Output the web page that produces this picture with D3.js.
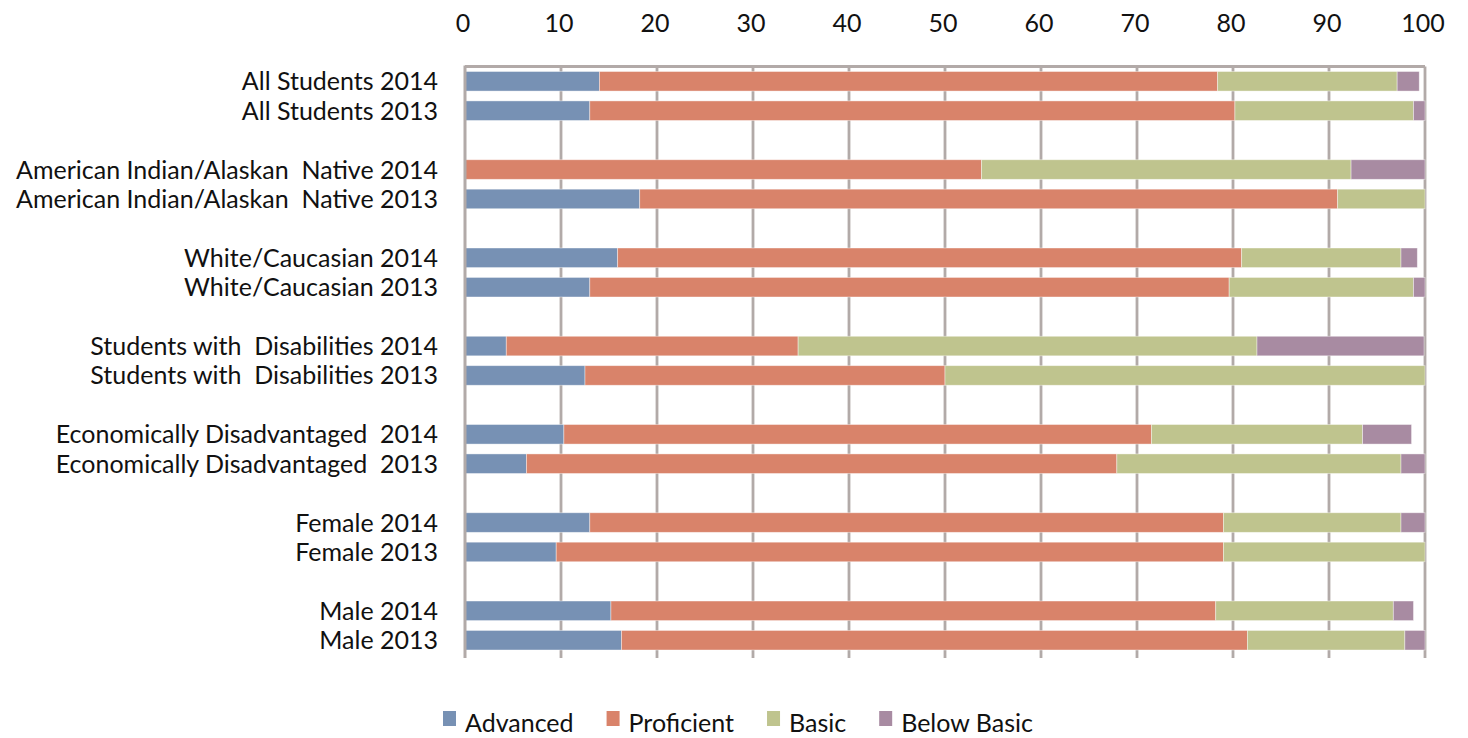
<!DOCTYPE html>
<html>
<head>
<meta charset="utf-8">
<script src="https://cdn.jsdelivr.net/npm/d3@7"></script>
<style>
  body { margin: 0; background: #fff; }
  text { font-family: Lato, "Liberation Sans", Arial, sans-serif; fill: #111; }
</style>
</head>
<body>
<svg id="chart"></svg>
<script>
// groups, top to bottom; each has a 2014 row then a 2013 row
var groups = [
  'All Students',
  'American Indian/Alaskan  Native',
  'White/Caucasian',
  'Students with  Disabilities',
  'Economically Disadvantaged ',
  'Female',
  'Male'
];
var years = ['2014', '2013'];

var levels = ['Advanced', 'Proficient', 'Basic', 'Below Basic'];
var colors = ['#7791b4', '#d9836a', '#bfc48e', '#a88ba2'];

// percent per row, in order of rows (group x year)
var advanced   = [14.0, 13.0,  0.0, 18.2, 15.9, 13.0,  4.3, 12.5, 10.3,  6.4, 13.0,  9.5, 15.2, 16.3];
var proficient = [64.4, 67.2, 53.8, 72.7, 65.0, 66.6, 30.4, 37.5, 61.2, 61.5, 66.0, 69.5, 63.0, 65.2];
var basic      = [18.7, 18.6, 38.5,  9.1, 16.6, 19.2, 47.8, 50.0, 22.0, 29.6, 18.5, 21.0, 18.5, 16.4];
var belowBasic = [ 2.3,  1.2,  7.7,  0.0,  1.7,  1.2, 17.4,  0.0,  5.1,  2.5,  2.5,  0.0,  2.1,  2.1];

var xTicks = [0, 10, 20, 30, 40, 50, 60, 70, 80, 90, 100];

// set the dimensions and margins of the graph
var W = 1468, H = 738;
var margin = { top: 66.5, right: 43, bottom: 83, left: 465 };
var width = W - margin.left - margin.right;
var height = H - margin.top - margin.bottom;

// build row keys, with a blank spacer between groups
var rows = [];
var domain = [];
groups.forEach(function (g, gi) {
  years.forEach(function (yr) {
    var i = rows.length;
    var r = { key: 'r' + i, label: g + ' ' + yr, values: [advanced[i], proficient[i], basic[i], belowBasic[i]] };
    rows.push(r);
    domain.push(r.key);
  });
  if (gi < groups.length - 1) domain.push('gap' + gi);
});

var x = d3.scaleLinear().domain([0, 100]).range([0, width]);
var y = d3.scaleBand().domain(domain).range([0, height]).paddingInner(0.335).paddingOuter(0.17);

var svg = d3.select('#chart').attr('width', W).attr('height', H);
var graph = svg.append('g')
  .attr('transform', 'translate(' + margin.left + ',' + margin.top + ')');

var gridColor = '#b2aaa8';

// vertical gridlines
graph.append('g').attr('class', 'grid')
  .selectAll('line')
  .data(xTicks.filter(function (d) { return d > 0; }))
  .enter().append('line')
  .attr('x1', function (d) { return x(d); })
  .attr('x2', function (d) { return x(d); })
  .attr('y1', 0)
  .attr('y2', height + 3)
  .attr('stroke', gridColor)
  .attr('stroke-width', 2.8);

// top border
graph.append('line')
  .attr('x1', 0).attr('x2', width)
  .attr('y1', 0).attr('y2', 0)
  .attr('stroke', gridColor).attr('stroke-width', 2.8);

// stacked bars
var stacked = rows.map(function (r) {
  var acc = 0;
  return r.values.map(function (v, li) {
    var seg = { key: r.key, x0: acc, x1: acc + v, level: li };
    acc += v;
    return seg;
  });
});

graph.append('g').attr('class', 'bars')
  .selectAll('g')
  .data(stacked)
  .enter().append('g')
  .selectAll('rect')
  .data(function (d) { return d.filter(function (s) { return s.x1 > s.x0; }); })
  .enter().append('rect')
  .attr('x', function (d) { return x(d.x0); })
  .attr('width', function (d) { return x(Math.min(d.x1, 100)) - x(d.x0); })
  .attr('y', function (d) { return y(d.key); })
  .attr('height', y.bandwidth())
  .attr('fill', function (d) { return colors[d.level]; })
  .attr('stroke', '#ffffff')
  .attr('stroke-opacity', 0.5)
  .attr('stroke-width', 0.8);

// left axis line
graph.append('line')
  .attr('x1', 0).attr('x2', 0)
  .attr('y1', -1).attr('y2', height + 3)
  .attr('stroke', gridColor).attr('stroke-width', 3);

// top tick labels
graph.append('g').attr('class', 'x-labels')
  .selectAll('text')
  .data(xTicks)
  .enter().append('text')
  .attr('x', function (d) { return x(d) - 2; })
  .attr('y', -35)
  .attr('text-anchor', 'middle')
  .attr('font-size', 25)
  .text(function (d) { return d; });

// category labels
graph.append('g').attr('class', 'y-labels')
  .selectAll('text')
  .data(rows)
  .enter().append('text')
  .attr('x', -27)
  .attr('y', function (d) { return y(d.key) + y.bandwidth() / 2; })
  .attr('dy', '0.36em')
  .attr('text-anchor', 'end')
  .attr('font-size', 25)
  .style('white-space', 'pre')
  .text(function (d) { return d.label; });

// legend
var legend = svg.append('g').attr('class', 'legend').attr('transform', 'translate(443,0)');
var lx = 0;
levels.forEach(function (name, i) {
  var item = legend.append('g').attr('transform', 'translate(' + lx + ',0)');
  item.append('rect')
    .attr('x', 0).attr('y', 711)
    .attr('width', 13).attr('height', 15)
    .attr('fill', colors[i]);
  var t = item.append('text')
    .attr('x', 22).attr('y', 732)
    .attr('font-size', 25)
    .text(name);
  lx += 22 + t.node().getComputedTextLength() + 33;
});
</script>
</body>
</html>
